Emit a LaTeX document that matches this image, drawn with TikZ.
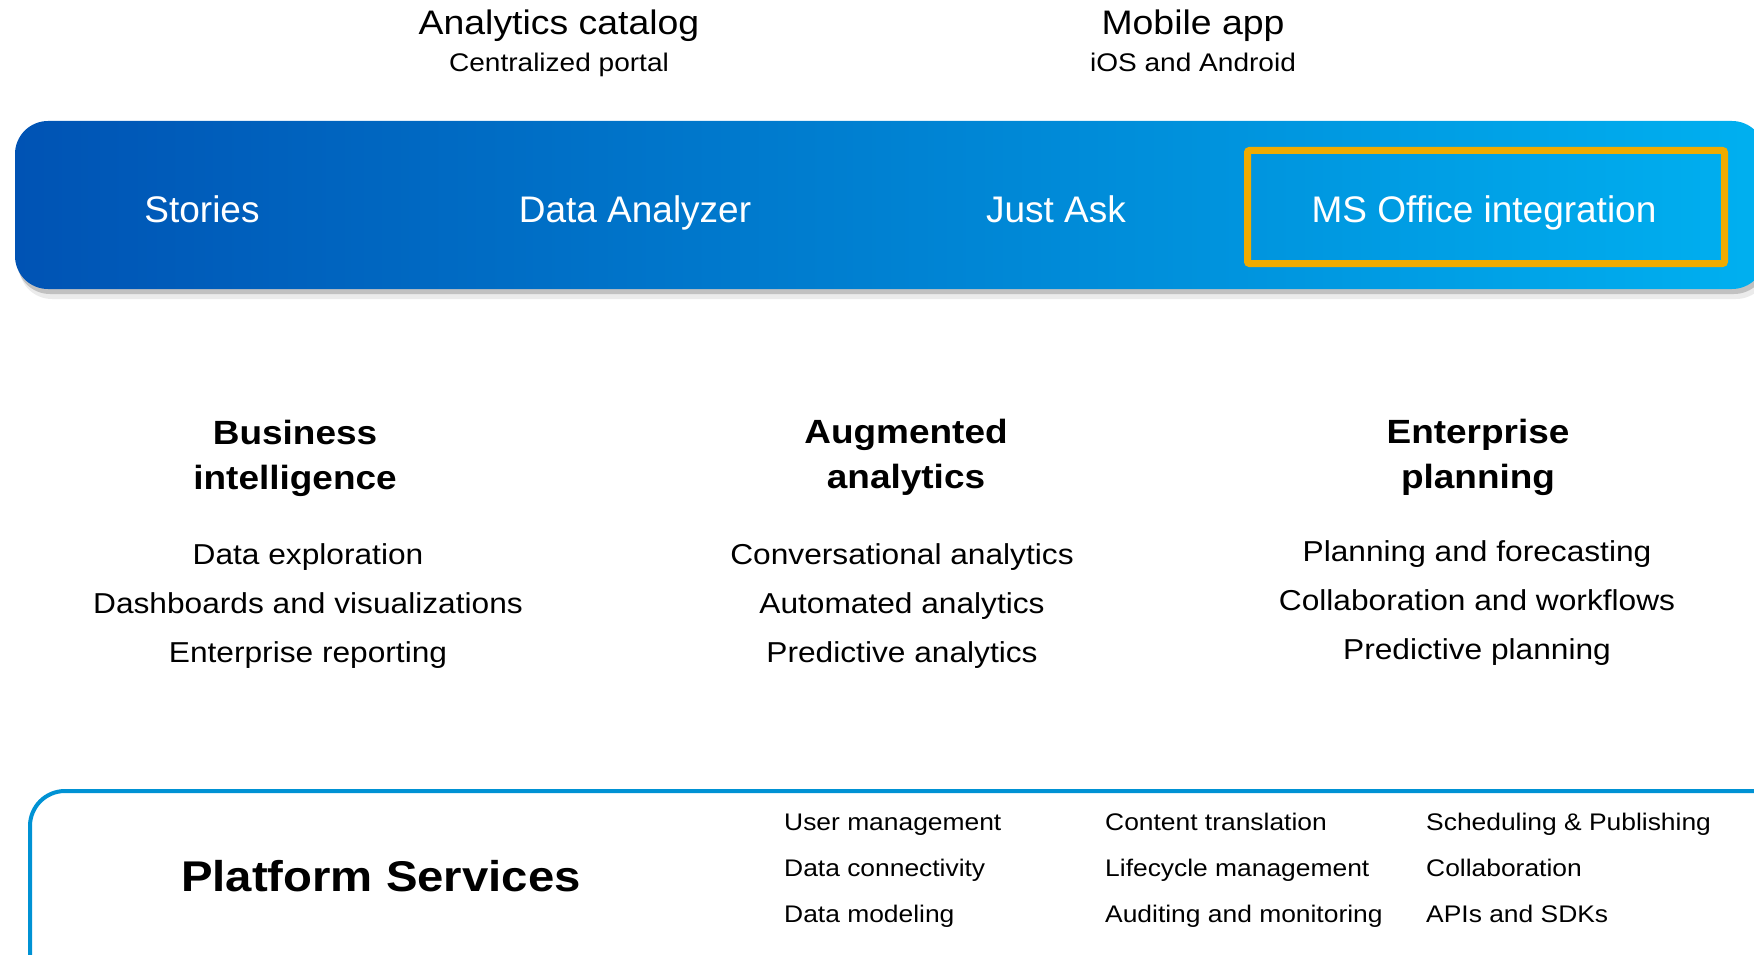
\documentclass[tikz,border=0pt]{standalone}
\usepackage{fontspec}
\setmainfont{Liberation Sans}[FakeStretch=1.1]
\newfontfamily\barfont{Liberation Sans}
\usepackage{tikz}
\usetikzlibrary{positioning, shadows}
\definecolor{sapdark}{RGB}{0,83,180}
\definecolor{saplight}{RGB}{0,176,240}
\definecolor{sapgold}{RGB}{240,171,0}
\definecolor{sapline}{RGB}{0,146,212}

\begin{document}
\begin{tikzpicture}[x=1pt, y=1pt, every node/.style={inner sep=0pt},
  bar text/.style={anchor=base, text=white, font=\barfont\fontsize{37}{44}\selectfont},
  title/.style={font=\fontsize{34}{40}\selectfont, text height=25pt, text depth=8pt},
  subtitle/.style={font=\fontsize{25.5}{30}\selectfont, text height=19pt, text depth=6pt},
  head/.style={font=\bfseries\fontsize{33.6}{40}\selectfont, text height=25pt, text depth=8pt},
  item/.style={font=\fontsize{28.8}{34}\selectfont, text height=21pt, text depth=7pt},
  service/.style={font=\fontsize{24}{28}\selectfont, text height=18pt, text depth=6pt},
  big head/.style={anchor=base, font=\bfseries\fontsize{43}{50}\selectfont}]

\useasboundingbox (0,0) rectangle (1754,-955);
\clip (0,0) rectangle (1754,-955);

% top line
\node[title, anchor=base] (cat) at (559,-35) {Analytics catalog};
\node[subtitle, below=9pt of cat] (catsub) {Centralized portal};
\node[title, anchor=base] (mob) at (1193,-35) {Mobile app};
\node[subtitle, below=9pt of mob] (mobsub) {iOS and Android};

% blue bar
\fill[black, opacity=.08, rounded corners=33pt] (19,-127) rectangle (1769,-299);
\path[drop shadow={shadow xshift=2pt, shadow yshift=-5pt, opacity=.18, fill=black},
  left color=sapdark, right color=saplight, rounded corners=33pt]
  (15,-121) rectangle (1765,-289);
\draw[sapgold, line width=7pt, rounded corners=2pt] (1247.5,-150.5) rectangle (1724.5,-263.5);

\node[bar text] (stories) at (202,-222) {Stories};
\node[bar text] (analyzer) at (635,-222) {Data Analyzer};
\node[bar text] (ask) at (1056,-222) {Just Ask};
\node[bar text] (office) at (1484,-222) {MS Office integration};

% three columns
\node[head, anchor=base] (bi1) at (295,-444) {Business};
\node[head, below=12pt of bi1] (bi2) {intelligence};
\node[item, anchor=base] (bi3) at (308,-564) {Data exploration};
\node[item, below=21pt of bi3] (bi4) {Dashboards and visualizations};
\node[item, below=21pt of bi4] (bi5) {Enterprise reporting};

\node[head, anchor=base] (aa1) at (906,-443) {Augmented};
\node[head, below=12pt of aa1] (aa2) {analytics};
\node[item, anchor=base] (aa3) at (902,-564) {Conversational analytics};
\node[item, below=21pt of aa3] (aa4) {Automated analytics};
\node[item, below=21pt of aa4] (aa5) {Predictive analytics};

\node[head, anchor=base] (ep1) at (1478,-443) {Enterprise};
\node[head, below=12pt of ep1] (ep2) {planning};
\node[item, anchor=base] (ep3) at (1477,-561) {Planning and forecasting};
\node[item, below=21pt of ep3] (ep4) {Collaboration and workflows};
\node[item, below=21pt of ep4] (ep5) {Predictive planning};

% platform services
\draw[sapline, line width=4pt, rounded corners=35pt] (30,-1000) |- (1800,-791);
\node[big head] (ps) at (381,-891) {Platform Services};

\node[service, anchor=base west] (s1) at (784,-830) {User management};
\node[service, below right=22pt and 0pt of s1.south west] (s2) {Data connectivity};
\node[service, below right=22pt and 0pt of s2.south west] (s3) {Data modeling};
\node[service, anchor=base west] (s4) at (1105,-830) {Content translation};
\node[service, below right=22pt and 0pt of s4.south west] (s5) {Lifecycle management};
\node[service, below right=22pt and 0pt of s5.south west] (s6) {Auditing and monitoring};
\node[service, anchor=base west] (s7) at (1426,-830) {Scheduling \& Publishing};
\node[service, below right=22pt and 0pt of s7.south west] (s8) {Collaboration};
\node[service, below right=22pt and 0pt of s8.south west] (s9) {APIs and SDKs};

\end{tikzpicture}
\end{document}
